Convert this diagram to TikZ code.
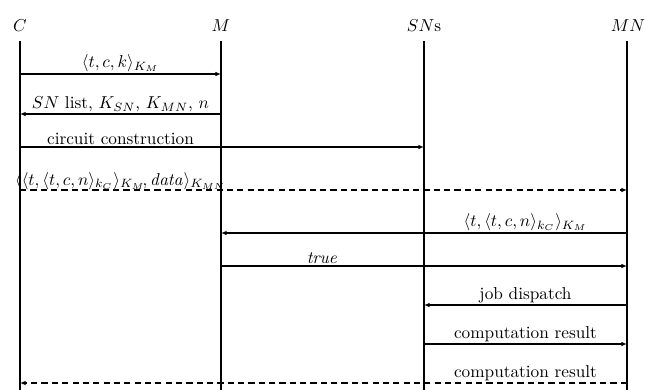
\documentclass[tikz,border=0pt]{standalone}
\usetikzlibrary{arrows.meta,calc}
\begin{document}
\begin{tikzpicture}[x=0.58pt,y=-0.58pt,
  lifeline/.style={line width=0.65pt},
  msg/.style={line width=0.65pt,-{Latex[length=3.2pt,width=2.6pt]}},
  dmsg/.style={msg,dash pattern=on 3.6pt off 2.4pt},
  lbl/.style={anchor=south,inner sep=1pt},
  hdr/.style={inner sep=0pt}]
\useasboundingbox (0,0) rectangle (646,389);
% participants
\node[hdr] (C) at (20,26) {$C$};
\node[hdr] (M) at (221,26) {$M$};
\node[hdr] (S) at (424,26) {$SN$s};
\node[hdr] (N) at (628,26) {$MN$};
% lifeline ends
\coordinate (Ct) at (20,41);  \coordinate (Cb) at (20,392);
\coordinate (Mt) at (221,41); \coordinate (Mb) at (221,392);
\coordinate (St) at (424,41); \coordinate (Sb) at (424,392);
\coordinate (Nt) at (627,41); \coordinate (Nb) at (627,392);
\draw[lifeline] (Ct) -- (Cb);
\draw[lifeline] (Mt) -- (Mb);
\draw[lifeline] (St) -- (Sb);
\draw[lifeline] (Nt) -- (Nb);
% message end points
\foreach \y/\n in {74/1,114/2,147/3,190/4,233/5,266/6,305/7,344/8,383/9}{
  \coordinate (c\n) at (20,\y);
  \coordinate (m\n) at (221,\y);
  \coordinate (s\n) at (424,\y);
  \coordinate (n\n) at (627,\y);
}
% messages
\draw[msg] (c1) -- (m1);
\node[lbl] at ($ (c1)!0.5!(m1) $) {$\langle t,c,k\rangle_{K_M}$};
\draw[msg] (m2) -- (c2);
\node[lbl] at ($ (c2)!0.5!(m2) $) {$SN$ list, $K_{SN}$, $K_{MN}$, $n$};
\draw[msg] (c3) -- (s3);
\node[lbl] at ($ (c3)!0.5!(m3) $) {circuit construction};
\draw[dmsg] (c4) -- (n4);
\node[lbl,inner sep=0pt] at ($ (c4)!0.5!(m4) $) {$\langle\langle t,\langle t,c,n\rangle_{k_C}\rangle_{K_M}\!,\mathit{data}\rangle_{K_{MN}}$};
\draw[msg] (n5) -- (m5);
\node[lbl] at ($ (s5)!0.5!(n5) $) {$\langle t,\langle t,c,n\rangle_{k_C}\rangle_{K_M}$};
\draw[msg] (m6) -- (n6);
\node[lbl] at ($ (m6)!0.5!(s6) $) {$\mathit{true}$};
\draw[msg] (n7) -- (s7);
\node[lbl] at ($ (s7)!0.5!(n7) $) {job dispatch};
\draw[msg] (s8) -- (n8);
\node[lbl] at ($ (s8)!0.5!(n8) $) {computation result};
\draw[dmsg] (n9) -- (c9);
\node[lbl] at ($ (s9)!0.5!(n9) $) {computation result};
\end{tikzpicture}
\end{document}
